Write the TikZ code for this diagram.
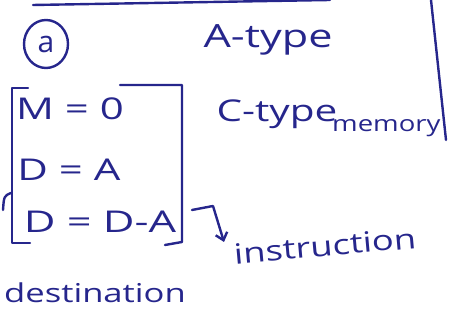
\documentclass[tikz,border=0pt]{standalone}
\usetikzlibrary{shapes.geometric,arrows.meta}
\usepackage{graphicx}
\usepackage{fontspec}
\setmainfont{Open Sans}
\definecolor{ink}{RGB}{38,38,140}
\begin{document}
\begin{tikzpicture}[x=1pt,y=1pt,
  pen/.style={draw=ink,line width=2.4pt,line cap=round,line join=round},
  hand/.style={text=ink,inner sep=0pt,font=\fontsize{#1}{#1}\selectfont},
  hand/.default=24]
\useasboundingbox (0,0) rectangle (455,320);
% page edges
\coordinate (tl) at (33,315);
\coordinate (tr) at (330,320);
\draw[pen] (tl) -- (tr);
\coordinate (rt) at (431,320);
\coordinate (rb) at (446,180);
\draw[pen] (rt) -- (rb);
% circled label
\node[pen,ellipse,minimum width=44pt,minimum height=48pt,inner sep=0pt] (lab) at (46,276) {};
\node[hand=30] (labt) at (lab.center) {a};
% A-type
\node[hand=32] (atype) at (268,280) {\scalebox{1.35}[1]{A-type}};
% equations
\node[hand=30] (e1) at (70,211) {\scalebox{1.4}[1]{M = 0}};
\node[hand=30] (e2) at (69,150) {\scalebox{1.4}[1]{D = A}};
\node[hand=30] (e3) at (100,98) {\scalebox{1.45}[1]{D = D-A}};
% brackets
\coordinate (bl1) at (28,232);
\coordinate (bl2) at (12,232);
\coordinate (bl3) at (12,77);
\coordinate (bl4) at (30,77);
\draw[pen] (bl1) -- (bl2) -- (bl3) -- (bl4);
\coordinate (br1) at (120,235);
\coordinate (br2) at (182,235);
\coordinate (br3) at (182,78);
\coordinate (br4) at (165,75);
\draw[pen] (br1) -- (br2) -- (br3) -- (br4);
% small curve at left
\coordinate (c1) at (11,127);
\coordinate (c2) at (3,110);
\draw[pen] (c1) .. controls (4,124) .. (c2);
% C-type memory
\node[hand=30] (ctype) at (277,206) {\scalebox{1.35}[1]{C-type}};
\node[hand=22,anchor=west] (mem) at (332,192) {\scalebox{1.25}[1]{memory}};
% arrow to instruction
\coordinate (a0) at (192,110);
\coordinate (a1) at (213,114);
\coordinate (a2) at (224,78);
\node[hand=28,rotate=5] (instr) at (325,74) {\scalebox{1.3}[1]{instruction}};
\draw[pen,-{Straight Barb[length=7pt,width=12pt]}] (a0) -- (a1) -- (a2);
% destination
\node[hand=26] (dest) at (95,27) {\scalebox{1.33}[1]{destination}};
\end{tikzpicture}
\end{document}
